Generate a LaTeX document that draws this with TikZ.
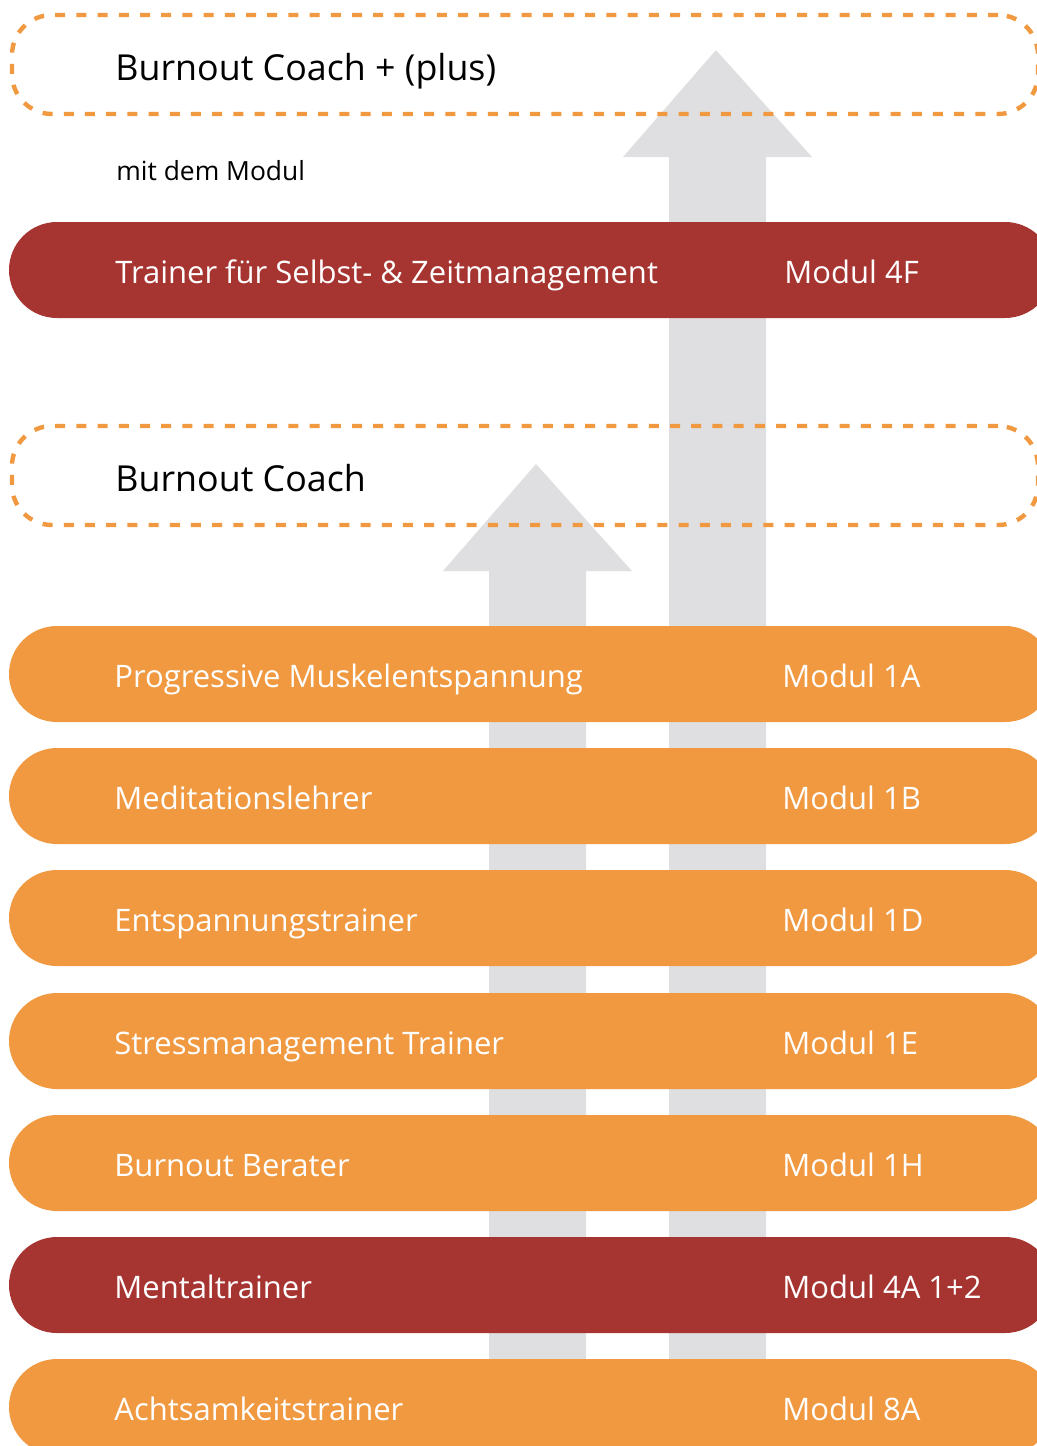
\documentclass[tikz,border=0pt]{standalone}
\usepackage{fontspec}
\setmainfont{Open Sans}
\definecolor{dunkelrot}{HTML}{A63531}
\definecolor{hellorange}{HTML}{F09941}
\definecolor{pfeilgrau}{HTML}{DFDFE1}
\begin{document}
\begin{tikzpicture}[x=0.5pt, y=-0.5pt, line join=round,
	rahmen/.style={draw=hellorange, line width=2.2pt, dash pattern=on 5pt off 5.6pt, rounded corners=20pt, minimum width=513pt, minimum height=49.5pt, inner sep=0pt},
	balken/.style={rounded corners=24pt, minimum width=522pt, minimum height=48pt, inner sep=0pt},
	titel/.style={anchor=base west, inner sep=0pt, font=\fontsize{17.9}{21}\selectfont},
	kurs/.style={anchor=base west, inner sep=0pt, text=white, font=\fontsize{15.5}{18}\selectfont}]
	\useasboundingbox (0,0) rectangle (1037,1446);
	\clip (0,0) rectangle (1037,1446);
	% Pfeile
	\fill[pfeilgrau] (669,1390)--(669,157)--(623,157)--(716,50)--(812,157)--(766,157)--(766,1390)--cycle;
	\fill[pfeilgrau] (489,1390)--(489,571)--(443,571)--(536,464)--(632,571)--(586,571)--(586,1390)--cycle;
	% Ziele
	\node[rahmen] (plus) at (525,64.5) {};
	\node[rahmen] (coach) at (525,475.5) {};
	\node[titel] (plustext) at (115,80) {Burnout Coach + (plus)};
	\node[titel] (coachtext) at (115,491) {Burnout Coach};
	\node[anchor=base west, inner sep=0pt, font=\fontsize{13.2}{16}\selectfont] (mit) at (116,180) {mit dem Modul};
	% Module
	\node[balken, fill=dunkelrot] (b0) at (531,270) {};
	\node[kurs] (t0) at (115,283) {Trainer für Selbst- \& Zeitmanagement};
	\node[kurs] (m0) at (784,283) {Modul 4F};
	\foreach \i/\y/\f/\t/\m in {1/674/hellorange/Progressive Muskelentspannung/1A,
		2/796/hellorange/Meditationslehrer/1B,
		3/918/hellorange/Entspannungstrainer/1D,
		4/1041/hellorange/Stressmanagement Trainer/1E,
		5/1163/hellorange/Burnout Berater/1H,
		6/1285/dunkelrot/Mentaltrainer/4A 1+2,
		7/1407/hellorange/Achtsamkeitstrainer/8A}{
		\node[balken, fill=\f] (b\i) at (531,\y) {};
		\node[kurs] (t\i) at (114,\y+13) {\t};
		\node[kurs] (m\i) at (782,\y+13) {Modul \m};
	}
\end{tikzpicture}
\end{document}
